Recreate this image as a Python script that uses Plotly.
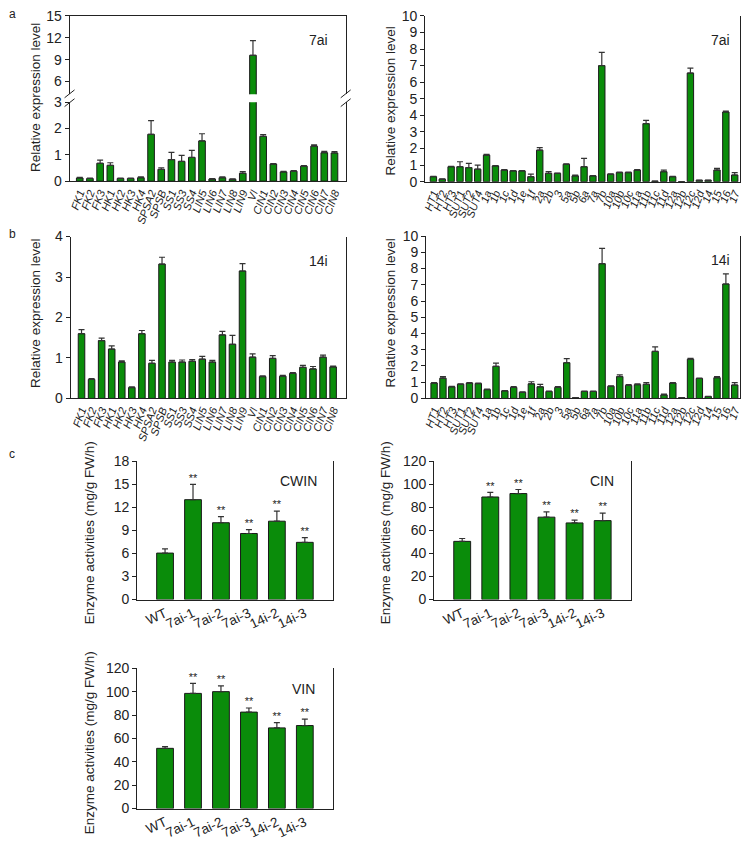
import plotly.graph_objects as go

W, H = 747, 845
FONT = "Liberation Sans, Arial, sans-serif"
GREEN = "#0a8c0a"
EDGE = "#1a1a1a"
ERRC = "#333333"

# ---------------- data ----------------
genes_a = ["FK1", "FK2", "FK3", "HK1", "HK2", "HK3", "HK4", "SPSA2", "SPSB", "SS1", "SS3", "SS4",
           "LIN5", "LIN6", "LIN7", "LIN8", "LIN9", "VI", "CIN1", "CIN2", "CIN3", "CIN4", "CIN5",
           "CIN6", "CIN7", "CIN8"]
a7_vals = [0.12, 0.10, 0.68, 0.60, 0.10, 0.10, 0.13, 1.78, 0.45, 0.82, 0.75, 0.90,
           1.53, 0.08, 0.13, 0.07, 0.30, 9.6, 1.70, 0.65, 0.35, 0.38, 0.57, 1.33, 1.08, 1.07]
a7_err = [0.02, 0.02, 0.12, 0.10, 0.02, 0.02, 0.03, 0.52, 0.06, 0.27, 0.23, 0.27,
          0.27, 0.02, 0.03, 0.02, 0.06, 2.0, 0.07, 0.02, 0.02, 0.02, 0.02, 0.05, 0.05, 0.05]
b14_vals = [1.60, 0.47, 1.43, 1.22, 0.90, 0.27, 1.60, 0.87, 3.32, 0.90, 0.90, 0.92,
            0.97, 0.90, 1.57, 1.34, 3.15, 1.02, 0.54, 0.99, 0.55, 0.62, 0.77, 0.73, 1.02, 0.78]
b14_err = [0.10, 0.02, 0.06, 0.08, 0.03, 0.02, 0.08, 0.07, 0.17, 0.04, 0.05, 0.04,
           0.07, 0.04, 0.09, 0.22, 0.18, 0.08, 0.02, 0.07, 0.02, 0.02, 0.05, 0.06, 0.05, 0.02]

genes_r = ["HT1", "HT2", "HT3", "SUT1", "SUT2", "SUT4", "1a", "1b", "1c", "1d", "1e", "1f", "2a",
           "2b", "3", "5a", "5b", "6a", "7a", "7b", "10a", "10b", "10c", "11a", "11b", "11c", "11d",
           "12a", "12b", "12c", "12d", "14", "15", "16", "17"]
r7_vals = [0.30, 0.15, 0.90, 0.90, 0.85, 0.75, 1.60, 0.95, 0.70, 0.65, 0.65, 0.30, 1.90,
           0.50, 0.50, 1.05, 0.35, 0.90, 0.35, 7.00, 0.45, 0.55, 0.55, 0.70, 3.50, 0.03, 0.60,
           0.30, 0.00, 6.55, 0.08, 0.08, 0.70, 4.20, 0.40]
r7_err = [0.02, 0.02, 0.03, 0.30, 0.25, 0.25, 0.05, 0.02, 0.02, 0.02, 0.02, 0.15, 0.15,
          0.10, 0.02, 0.02, 0.05, 0.50, 0.02, 0.80, 0.02, 0.02, 0.02, 0.02, 0.20, 0.01, 0.10,
          0.02, 0.00, 0.30, 0.01, 0.01, 0.10, 0.05, 0.15]
r14_vals = [0.95, 1.25, 0.72, 0.88, 0.95, 0.92, 0.55, 1.98, 0.47, 0.68, 0.38, 0.90, 0.72,
            0.43, 0.68, 2.20, 0.05, 0.43, 0.43, 8.30, 0.75, 1.35, 0.80, 0.85, 0.87, 2.90, 0.22,
            0.95, 0.05, 2.42, 1.23, 0.12, 1.28, 7.05, 0.83]
r14_err = [0.03, 0.10, 0.02, 0.02, 0.02, 0.02, 0.02, 0.20, 0.02, 0.05, 0.02, 0.13, 0.15,
           0.02, 0.05, 0.25, 0.01, 0.02, 0.02, 0.95, 0.02, 0.10, 0.05, 0.05, 0.10, 0.28, 0.05,
           0.02, 0.01, 0.05, 0.02, 0.01, 0.07, 0.62, 0.15]

lines_c = ["WT", "7ai-1", "7ai-2", "7ai-3", "14i-2", "14i-3"]
cwin_vals = [6.05, 13.0, 10.0, 8.6, 10.2, 7.45]
cwin_err = [0.55, 2.0, 0.8, 0.5, 1.3, 0.6]
cin_vals = [50.5, 89.0, 92.0, 71.5, 66.5, 68.5]
cin_err = [2.5, 4.0, 3.5, 4.5, 2.5, 6.5]
vin_vals = [51.5, 98.5, 100.0, 82.5, 69.0, 71.0]
vin_err = [1.5, 8.5, 5.0, 3.5, 4.5, 5.5]
sig_c = ["", "**", "**", "**", "**", "**"]


def xd(a, b):
    return [a / W, b / W]


def yd(top, bottom):
    return [1 - bottom / H, 1 - top / H]


fig = go.Figure()


def bars(cats, vals, errs, xa, ya, width):
    fig.add_trace(go.Bar(
        x=cats, y=vals, xaxis=xa, yaxis=ya, width=width,
        marker=dict(color=GREEN, line=dict(color=EDGE, width=1)),
        error_y=dict(type="data", symmetric=False, array=errs,
                     arrayminus=[0] * len(errs), color=ERRC, thickness=1.2, width=3),
        showlegend=False, hoverinfo="x+y",
    ))


def stars(cats, vals, errs, labels, xa, ya):
    fig.add_trace(go.Scatter(
        x=cats, y=[v + e for v, e in zip(vals, errs)], mode="text", text=labels,
        textposition="top center", textfont=dict(family=FONT, size=11, color="#222222"),
        xaxis=xa, yaxis=ya, showlegend=False, hoverinfo="skip", cliponaxis=False,
    ))


bars(genes_a, a7_vals, a7_err, "x", "y", 0.65)
bars(genes_a, a7_vals, a7_err, "x2", "y2", 0.65)
bars(genes_r, r7_vals, r7_err, "x3", "y3", 0.72)
bars(genes_a, b14_vals, b14_err, "x4", "y4", 0.65)
bars(genes_r, r14_vals, r14_err, "x5", "y5", 0.72)
bars(lines_c, cwin_vals, cwin_err, "x6", "y6", 0.6)
stars(lines_c, cwin_vals, cwin_err, sig_c, "x6", "y6")
bars(lines_c, cin_vals, cin_err, "x7", "y7", 0.6)
stars(lines_c, cin_vals, cin_err, sig_c, "x7", "y7")
bars(lines_c, vin_vals, vin_err, "x8", "y8", 0.6)
stars(lines_c, vin_vals, vin_err, sig_c, "x8", "y8")

tickfont = dict(family=FONT, size=14, color="#222")
italic_font = dict(family=FONT, size=11, color="#222", style="italic")
c_font = dict(family=FONT, size=13.5, color="#222")


def xaxis(dom, anchor, rng, font, angle, cats, show=True, side="bottom"):
    return dict(domain=dom, anchor=anchor, range=rng, showline=True, linecolor="#222",
                linewidth=1, showgrid=False, zeroline=False, ticks="",
                tickmode="array", tickvals=cats, ticktext=cats,
                showticklabels=show, tickfont=font, tickangle=angle, side=side,
                fixedrange=True)


def yaxis(dom, anchor, rng, dtick, tickvals=None):
    d = dict(domain=dom, anchor=anchor, range=rng, showline=True, mirror=True,
             linecolor="#222", linewidth=1, showgrid=False, zeroline=False,
             ticks="outside", ticklen=4, tickcolor="#222", tickfont=tickfont,
             tickmode="linear", dtick=dtick, tick0=0, fixedrange=True)
    if tickvals is not None:
        d["tickvals"] = tickvals
        d["tickmode"] = "array"
    return d


na = len(genes_a)
nr = len(genes_r)
fig.update_layout(
    width=W, height=H, margin=dict(l=0, r=0, t=0, b=0),
    paper_bgcolor="white", plot_bgcolor="white",
    xaxis=xaxis(xd(67, 345), "y", [-1, na + 0.1], italic_font, -70, genes_a),
    yaxis=yaxis(yd(96, 176.5), "x", [0, 3], 1, tickvals=[0, 1, 2, 3]),
    xaxis2=xaxis(xd(67, 345), "y2", [-1, na + 0.1], italic_font, -70, genes_a,
                 show=False, side="top"),
    yaxis2=yaxis(yd(8, 88), "x2", [4.25, 15], 3, tickvals=[6, 9, 12, 15]),
    xaxis3=xaxis(xd(425, 742), "y3", [-0.93, nr - 0.4], italic_font, -70, genes_r),
    yaxis3=yaxis(yd(8, 177), "x3", [0, 10], 1),
    xaxis4=xaxis(xd(68, 345), "y4", [-1.09, na + 0.25], italic_font, -70, genes_a),
    yaxis4=yaxis(yd(233, 398), "x4", [0, 4], 1),
    xaxis5=xaxis(xd(426, 742), "y5", [-0.9, nr - 0.4], italic_font, -70, genes_r),
    yaxis5=yaxis(yd(232.5, 398), "x5", [0, 10], 1),
    xaxis6=xaxis(xd(135, 332), "y6", [-1, 6], c_font, -25, lines_c),
    yaxis6=yaxis(yd(462, 603), "x6", [0, 18], 3),
    xaxis7=xaxis(xd(434, 632), "y7", [-1, 6], c_font, -25, lines_c),
    yaxis7=yaxis(yd(462, 603), "x7", [0, 120], 20),
    xaxis8=xaxis(xd(135, 332), "y8", [-1, 6], c_font, -25, lines_c),
    yaxis8=yaxis(yd(673, 816), "x8", [0, 120], 20),
)

ann = []


def text(x, y, s, size=14, angle=0, xanchor="center", yanchor="middle"):
    ann.append(dict(x=x / W, y=1 - y / H, xref="paper", yref="paper", text=s,
                    showarrow=False, textangle=angle, xanchor=xanchor, yanchor=yanchor,
                    font=dict(family=FONT, size=size, color="#222")))


# panel letters
text(4, 6, "a", 12, xanchor="left")
text(4, 230, "b", 12, xanchor="left")
text(4, 455, "c", 12, xanchor="left")
# y titles
yt = "Relative expression level"
et = "Enzyme activities (mg/g FW/h)"
text(32, 91, yt, 13.5, -90)
text(390, 95, yt, 13.5, -90)
text(32, 311, yt, 13.5, -90)
text(390, 311, yt, 13.5, -90)
text(87, 535, et, 13.5, -90)
text(385, 535, et, 13.5, -90)
text(87, 749, et, 13.5, -90)
# panel tags
text(318, 33, "7ai", 14)
text(722, 33, "7ai", 14)
text(318, 258, "14i", 14)
text(722, 257, "14i", 14)
text(297, 482, "CWIN", 14)
text(603, 482, "CIN", 14)
text(303, 694, "VIN", 14)

fig.update_layout(annotations=ann)

# axis-break marks
shapes = []
for xb in (67, 345):
    for yc in (87.5, 96.5):
        shapes.append(dict(type="line", xref="paper", yref="paper",
                           x0=(xb - 5) / W, x1=(xb + 5) / W,
                           y0=1 - (yc + 4) / H, y1=1 - (yc - 4) / H,
                           line=dict(color="#222", width=1)))
fig.update_layout(shapes=shapes)

fig.write_html("out.html", config={"displayModeBar": False},
               post_script="document.body.style.margin='0';document.body.style.padding='0';"
                           "document.documentElement.style.overflow='hidden';")
